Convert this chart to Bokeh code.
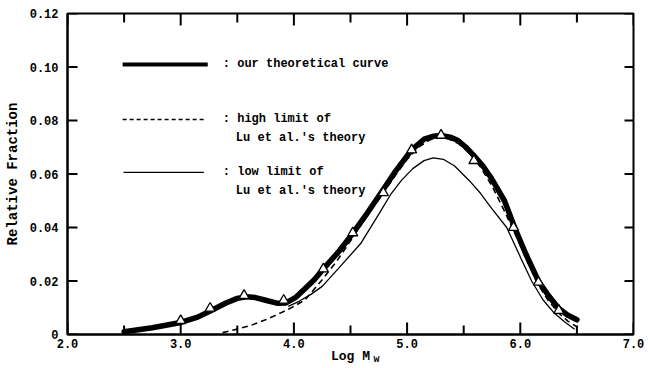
from bokeh.plotting import figure
from bokeh.models import (Range1d, FixedTicker, LinearAxis, CustomJSTickFormatter,
                          PrintfTickFormatter, Label)
from bokeh.embed import file_html
from bokeh.resources import INLINE

# --- our theoretical curve (log Mw vs relative fraction)
theory_x = [2.50, 2.75, 3.00, 3.15, 3.27, 3.40, 3.50, 3.58, 3.66, 3.75, 3.85, 3.93, 4.02, 4.09,
            4.18, 4.27, 4.40, 4.52, 4.65, 4.77, 4.90, 5.04, 5.15, 5.23, 5.30, 5.38, 5.45,
            5.52, 5.59, 5.67, 5.74, 5.86, 5.95, 6.05, 6.16, 6.25, 6.34, 6.42, 6.50]
theory_y = [0.0010, 0.0025, 0.0045, 0.0065, 0.0090, 0.0118, 0.0135, 0.0141, 0.0138, 0.0128, 0.0117,
            0.0118, 0.0140, 0.0168, 0.0205, 0.0250, 0.0312, 0.0378, 0.0455, 0.0530, 0.0612, 0.0690,
            0.0730, 0.0741, 0.0744, 0.0738, 0.0725, 0.0700, 0.0669, 0.0630, 0.0587, 0.0500, 0.0400,
            0.0300, 0.0200, 0.0145, 0.0097, 0.0072, 0.0055]

# --- high limit of Lu et al.'s theory
high_x = [3.37, 3.50, 3.62, 3.75, 3.88, 4.00, 4.10, 4.25, 4.38, 4.50, 4.62, 4.75, 4.88, 5.00,
          5.10, 5.20, 5.28, 5.36, 5.45, 5.55, 5.65, 5.75, 5.85, 5.95, 6.05, 6.16, 6.25, 6.34,
          6.42, 6.51]
high_y = [0.0007, 0.0020, 0.0034, 0.0055, 0.0080, 0.0105, 0.0130, 0.0205, 0.0275, 0.0350, 0.0428,
          0.0505, 0.0585, 0.0655, 0.0700, 0.0728, 0.0735, 0.0732, 0.0715, 0.0680, 0.0625, 0.0555,
          0.0470, 0.0380, 0.0285, 0.0185, 0.0125, 0.0080, 0.0050, 0.0026]

# --- low limit of Lu et al.'s theory
low_x = [3.95, 4.05, 4.15, 4.25, 4.40, 4.59, 4.75, 4.86, 4.95, 5.05, 5.15, 5.23, 5.32, 5.42,
         5.55, 5.65, 5.74, 5.88, 6.00, 6.10, 6.20, 6.30, 6.39, 6.48]
low_y = [0.0105, 0.0125, 0.0150, 0.0180, 0.0250, 0.0340, 0.0450, 0.0527, 0.0576, 0.0620, 0.0650,
         0.0660, 0.0655, 0.0630, 0.0575, 0.0527, 0.0475, 0.0400, 0.0290, 0.0200, 0.0130, 0.0080,
         0.0048, 0.0020]

# --- experimental points (triangles)
pts_x = [3.00, 3.26, 3.56, 3.91, 4.26, 4.52, 4.79, 5.04, 5.30, 5.59, 5.94, 6.16, 6.34]
pts_y = [0.0052, 0.0098, 0.0146, 0.0128, 0.0245, 0.0380, 0.0530, 0.0690, 0.0745, 0.0650,
         0.0400, 0.0195, 0.0090]

# --- axes ticks and texts
x_ticks = [2.0, 3.0, 4.0, 5.0, 6.0, 7.0]
x_minor = [2.5, 3.5, 4.5, 5.5, 6.5]
y_ticks = [0.0, 0.02, 0.04, 0.06, 0.08, 0.10, 0.12]
x_title = "Log M"
x_title_sub = "w"
y_title = "Relative Fraction"
key_texts = [": our theoretical curve", ": high limit of", "Lu et al.'s theory",
             ": low limit of", "Lu et al.'s theory"]

X0, X1, Y0, Y1 = 2.0, 7.0, 0.0, 0.12
W, H = 648, 368
BL, BR, BT, BB = 67, 15, 13, 34

p = figure(width=W, height=H, x_range=Range1d(X0, X1), y_range=Range1d(Y0, Y1),
           output_backend="svg", toolbar_location=None,
           min_border_left=BL, min_border_right=BR, min_border_top=BT, min_border_bottom=BB)
p.background_fill_color = None
p.border_fill_color = None
p.xgrid.visible = False
p.ygrid.visible = False
p.outline_line_color = "black"
p.outline_line_width = 2

# data units per screen pixel, used for the inward tick marks
dx = (X1 - X0) / (W - BL - BR)
dy = (Y1 - Y0) / (H - BT - BB)


def style_axis(ax, label_size="12px"):
    ax.axis_line_color = "black"
    ax.axis_line_width = 2
    ax.major_tick_in = 2
    ax.major_tick_out = 0
    ax.minor_tick_in = 2
    ax.minor_tick_out = 0
    ax.major_tick_line_color = None
    ax.minor_tick_line_color = None
    ax.major_label_text_font = "Liberation Mono"
    ax.major_label_text_font_style = "bold"
    ax.major_label_text_font_size = label_size
    ax.major_label_text_color = "black"
    ax.axis_label_text_font = "Liberation Mono"
    ax.axis_label_text_font_style = "bold"
    ax.axis_label_text_color = "black"
    ax.axis_label_text_font_size = "13px"


bottom = p.xaxis[0]
bottom.ticker = FixedTicker(ticks=x_ticks)
bottom.formatter = PrintfTickFormatter(format="%.1f")
style_axis(bottom)
bottom.major_label_standoff = 4
bottom.axis_label = x_title
bottom.axis_label_standoff = -2

# subscript "w" of the x title, set just under the end of "Log M"
w_pos = 4.73
sub_axis = LinearAxis(ticker=FixedTicker(ticks=[w_pos]),
                      formatter=CustomJSTickFormatter(code="return '%s';" % x_title_sub))
style_axis(sub_axis, label_size="10px")
sub_axis.axis_line_color = None
sub_axis.major_label_standoff = -13
p.add_layout(sub_axis, "below")

left = p.yaxis[0]
left.ticker = FixedTicker(ticks=y_ticks)
left.formatter = CustomJSTickFormatter(code="return tick == 0 ? '0' : tick.toFixed(2);")
style_axis(left)
left.axis_label_text_font_size = "14px"
left.major_label_standoff = 9
left.axis_label = y_title
left.axis_label_standoff = 6

# inward tick marks on all four sides of the frame
major_len_x, minor_len_x, len_left, len_right = 12, 9, 10, 9
bx = x_ticks + x_minor
blen = [major_len_x * dy] * len(x_ticks) + [minor_len_x * dy] * len(x_minor)
tick_xs = ([[x, x] for x in bx] + [[x, x] for x in bx]
           + [[X0, X0 + len_left * dx] for y in y_ticks] + [[X1, X1 - len_right * dx] for y in y_ticks])
tick_ys = ([[Y0, Y0 + l] for l in blen] + [[Y1, Y1 - l] for l in blen]
           + [[y, y] for y in y_ticks] + [[y, y] for y in y_ticks])
p.multi_line(xs=tick_xs, ys=tick_ys, line_color="black", line_width=2)

# curves
p.line(theory_x, theory_y, line_color="black", line_width=5.5, line_join="round", line_cap="round")
p.line(high_x, high_y, line_color="black", line_width=1.6, line_dash="6 4")
p.line(low_x, low_y, line_color="black", line_width=1.3)
p.scatter(pts_x, pts_y, marker="triangle", size=10, fill_color="white",
          line_color="black", line_width=1.3)

# key
p.line([2.487, 3.239], [0.1009, 0.1009], line_color="black", line_width=4)
p.line([2.487, 3.204], [0.0804, 0.0804], line_color="black", line_width=1.5, line_dash="4 3")
p.line([2.495, 3.204], [0.0606, 0.0606], line_color="black", line_width=1.3)
key_pos = [(3.372, 0.1010), (3.372, 0.0804), (3.487, 0.0733), (3.372, 0.0609), (3.487, 0.0538)]
for (kx, ky), txt in zip(key_pos, key_texts):
    p.add_layout(Label(x=kx, y=ky, text=txt, text_font="Liberation Mono", text_font_style="bold",
                       text_font_size="12px", text_baseline="middle", text_align="left",
                       text_color="black"))

open("out.html", "w").write(file_html(p, INLINE))
